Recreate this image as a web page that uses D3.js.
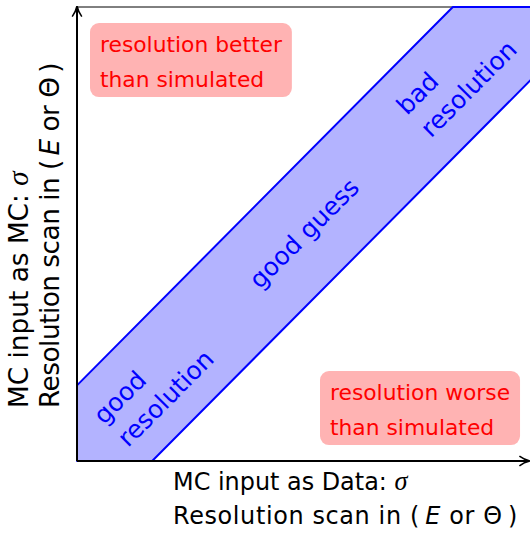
<!DOCTYPE html>
<html><head><meta charset="utf-8">
<script src="https://cdn.jsdelivr.net/npm/d3@7"></script>
<style>
body{margin:0;background:#fff}
svg text{font-family:"DejaVu Sans",sans-serif}
</style></head>
<body>
<svg id="c" width="530" height="534"></svg>
<script>
// band polygon in data units (domain 0..6 on both axes)
const bandX = [0, 1, 6.05, 6.05, 5, 0];
const bandY = [0, 0, 5.05, 6, 6, 1];
// region boxes: text lines and anchor (first baseline start) in data units
const boxLines = [["resolution better", "than simulated"], ["resolution worse", "than simulated"]];
const boxX = [0.306, 3.366];
const boxY = [5.405, 0.806];
// band labels (anchor in data units, rotated 45°)
const bandLines = [["good", "resolution"], ["good guess"], ["bad", "resolution"]];
const bandLX = [0.36, 2.43, 4.39];
const bandLY = [0.47, 2.26, 4.56];
const xLabel = ["MC input as Data: ", "Resolution scan in ("];
const yLabel = ["MC input as MC: ", "Resolution scan in ("];

const svg = d3.select("#c");
const x = d3.scaleLinear().domain([0, 6]).range([77, 528]);
const y = d3.scaleLinear().domain([0, 6]).range([461, 7]);

function measure(txt, size, ls) {
  const t = svg.append("text").attr("font-size", size).attr("letter-spacing", ls || 0).text(txt);
  const w = t.node().getComputedTextLength();
  t.remove();
  return w;
}
const fit = (txt, target) => 20 * target / measure(txt, 20);

// top frame line
svg.append("line").attr("x1", x(0)).attr("x2", 530).attr("y1", y(6)).attr("y2", y(6))
  .attr("stroke", "#000").attr("stroke-width", 1);

// band
const pts = bandX.map((d, i) => [x(d), y(bandY[i])]);
svg.append("path").attr("d", d3.line()(pts) + "Z")
  .attr("fill", "#b3b3ff").attr("stroke", "#0000ff").attr("stroke-width", 2).attr("stroke-linejoin", "round");

// arrow markers
const defs = svg.append("defs");
defs.append("marker").attr("id", "arr").attr("viewBox", "0 0 10 10").attr("refX", 9).attr("refY", 5)
  .attr("markerWidth", 6).attr("markerHeight", 6).attr("markerUnits", "strokeWidth").attr("orient", "auto")
  .append("path").attr("d", "M1,1 Q5,4 10,5 Q5,6 1,9").attr("fill", "none").attr("stroke", "#000").attr("stroke-width", 1.3);

// axes
svg.append("line").attr("x1", x(0)).attr("y1", y(0)).attr("x2", x(6) + 1).attr("y2", y(0))
  .attr("stroke", "#000").attr("stroke-width", 2).attr("marker-end", "url(#arr)");
svg.append("line").attr("x1", x(0)).attr("y1", y(0)).attr("x2", x(0)).attr("y2", y(6))
  .attr("stroke", "#000").attr("stroke-width", 2).attr("marker-end", "url(#arr)");

// boxes
const boxSize = fit(boxLines[0][0], 182);
boxLines.forEach((lines, i) => {
  const g = svg.append("g").attr("transform", `translate(${x(boxX[i])},${y(boxY[i])})`);
  const t = g.append("text").attr("fill", "#ff0000").attr("font-size", boxSize);
  lines.forEach((l, j) => t.append("tspan").attr("x", 0).attr("y", j * 35).text(l));
  const w = d3.max(lines, l => measure(l, boxSize));
  g.insert("rect", "text").attr("x", -10).attr("y", -29).attr("width", w + 20)
    .attr("height", 35 + 39).attr("rx", 9).attr("fill", "#ffb3b3");
});

// band labels
const bandSize = fit("good guess", 143);
bandLines.forEach((lines, i) => {
  const g = svg.append("g").attr("transform", `translate(${x(bandLX[i])},${y(bandLY[i])}) rotate(-45)`);
  const t = g.append("text").attr("fill", "#0000ff").attr("font-size", bandSize);
  lines.forEach((l, j) => t.append("tspan").attr("x", j ? 1 : 0).attr("y", j * 33).text(l));
});

// axis labels
function axisLabel(g, lines, baseline2) {
  const l1 = lines[0].replace(/ $/, "");
  const size = fit(l1, 214);
  const t = g.append("text").attr("font-size", size).attr("fill", "#000");
  t.append("tspan").attr("x", 0).attr("y", 0).text(lines[0]);
  t.append("tspan").attr("font-family", "Liberation Serif").attr("font-style", "italic")
    .attr("font-size", size * 1.1).text("σ");
  const full = lines[1] + "\u2009E or Θ\u2009)";
  const ls2 = (345 - measure(full, size)) / full.length;
  t.append("tspan").attr("x", 0).attr("y", baseline2).attr("letter-spacing", ls2).text(lines[1] + "\u2009");
  t.append("tspan").attr("font-style", "italic").attr("letter-spacing", ls2).text("E");
  t.append("tspan").attr("letter-spacing", ls2).text(" or Θ\u2009)");
}
axisLabel(svg.append("g").attr("transform", "translate(173,490)"), xLabel, 34);
axisLabel(svg.append("g").attr("transform", "translate(28,408) rotate(-90)"), yLabel, 31);
</script>
</body></html>
